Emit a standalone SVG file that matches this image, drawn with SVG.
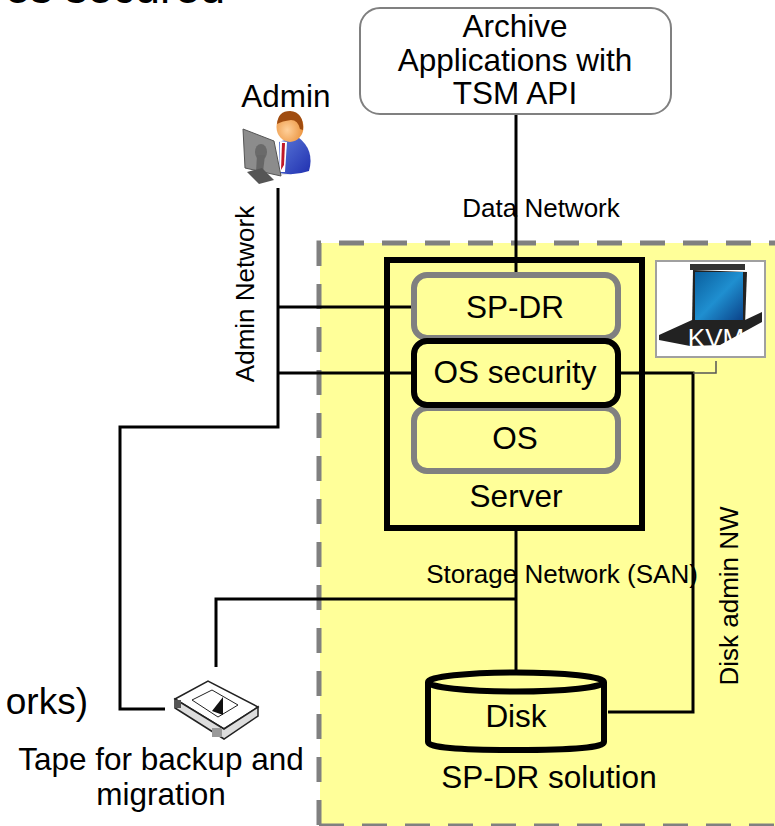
<svg xmlns="http://www.w3.org/2000/svg" width="775" height="826" viewBox="0 0 775 826">
<style>
text{font-family:"Liberation Sans",Arial,sans-serif;fill:#000;text-anchor:middle}
.f32{font-size:31.5px}.f26{font-size:26px}
.conn{fill:none;stroke:#000;stroke-width:3}
.box{fill:#ffff99}
.gr{stroke:#808080;stroke-width:6}
.bk{stroke:#000;stroke-width:6}
</style>
<defs>
<linearGradient id="screen" x1="0" y1="0" x2="1" y2="1"><stop offset="0" stop-color="#0a5f9e"/><stop offset=".5" stop-color="#1f8fd0"/><stop offset="1" stop-color="#0a3f86"/></linearGradient>
<linearGradient id="suit" x1="0" y1="0" x2="1" y2="1"><stop offset="0" stop-color="#5a78d8"/><stop offset="1" stop-color="#2030b0"/></linearGradient>
<radialGradient id="face" cx=".4" cy=".6" r=".7"><stop offset="0" stop-color="#ffd09a"/><stop offset="1" stop-color="#e88a30"/></radialGradient>
</defs>
<rect width="775" height="826" fill="#fff"/>
<text x="225" y="3" style="font-size:45px;text-anchor:end">es secured</text>
<text x="88" y="714" style="font-size:37px;text-anchor:end">orks)</text>
<g id="solution-zone">
<rect x="320" y="243" width="460" height="583" fill="#ffff99"/>
<path d="M319,825 V243 H775" fill="none" stroke="#808080" stroke-width="5" stroke-dasharray="25 18"/>
<path d="M319,825 H775" fill="none" stroke="#808080" stroke-width="3" stroke-dasharray="25 18"/>
</g>
<g id="server"><rect class="box bk" x="387" y="260" width="255" height="268"/><text class="f32" x="516" y="507">Server</text></g>
<g id="connectors">
<path class="conn" d="M516,114V272"/>
<path class="conn" d="M278,188V427H120V709H165"/>
<path class="conn" d="M278,307H414"/>
<path class="conn" d="M278,373H414"/>
<path class="conn" d="M618,373H693V712H608"/>
<path d="M693,373H716V361" fill="none" stroke="#555" stroke-width="1.5"/>
<path class="conn" d="M516,528V672"/>
<path class="conn" d="M516,599H216V667"/>
</g>
<g id="archive"><rect x="360" y="8" width="311" height="106" rx="20" fill="#fff" stroke="#808080" stroke-width="2"/>
<text class="f32" x="515" y="37">Archive</text><text class="f32" x="515" y="71">Applications with</text><text class="f32" x="515" y="104">TSM API</text></g>
<g id="sp-dr"><rect class="box gr" x="414" y="275" width="204" height="63" rx="13"/><text class="f32" x="515" y="318">SP-DR</text></g>
<g id="os"><rect class="box gr" x="414" y="408" width="204" height="63" rx="13"/><text class="f32" x="515" y="449">OS</text></g>
<g id="os-security"><rect class="box bk" x="414" y="341" width="204" height="64" rx="13"/><text class="f32" x="515" y="383">OS security</text></g>
<g id="disk">
<path class="box" d="M428,682V742Q428,750 516,750Q604,750 604,742V682" stroke="#000" stroke-width="6"/>
<ellipse class="box" cx="516" cy="682" rx="88" ry="9.5" stroke="#000" stroke-width="6"/>
<text class="f32" x="516" y="727">Disk</text>
<text class="f32" x="549" y="788">SP-DR solution</text>
</g>
<g id="admin">
<text class="f32" x="286" y="107">Admin</text>
<ellipse cx="283" cy="172" rx="13" ry="3" fill="#e8e8e8"/>
<path d="M279,142 Q290,138 298,137 Q315,150 309,171 Q295,176 279,173Z" fill="url(#suit)"/>
<path d="M280,141L287,142L285,172L279,172Z" fill="#fff"/>
<path d="M282,143L285,143L284,165L281,170Z" fill="#c01828"/>
<ellipse cx="290" cy="127" rx="13.500" ry="15" fill="url(#face)"/>
<path d="M277,124Q278,111 290,111Q304,112 303,130L300,129Q298,120 291,120Q282,121 277,124Z" fill="#a04c10"/>
<path d="M243,129L274,141L281,176L245,168Z" fill="#8c8c8c" stroke="#555" stroke-width="1"/>
<ellipse cx="261" cy="152" rx="6" ry="8" fill="#6a6a6a"/>
<path d="M257,155L265,155L263,172L256,172Z" fill="#666"/>
<path d="M247,172L262,168L274,180L259,184Z" fill="#555"/>
</g>
<g id="kvm">
<rect x="656" y="261" width="109" height="96" fill="#fff" stroke="#a0a0a0" stroke-width="2"/>
<path d="M690,264H745V270H690Z" fill="#333"/>
<path d="M693,270L747,272L745,325L692,325Z" fill="#222"/>
<rect x="695" y="272" width="48" height="50" fill="url(#screen)"/>
<path d="M659,335L692,320L745,320L762,312L762,322L720,345L690,346L659,340Z" fill="#222"/>
<text x="716" y="347" style="font-size:26px;fill:#fff">KVM</text>
</g>
<g id="tape">
<path d="M175,699L208,681L258,707L224,729Z" fill="#fff" stroke="#222" stroke-width="1.500"/>
<path d="M175,699V708L224,739L258,716V707L224,729Z" fill="#ddd" stroke="#222" stroke-width="1.500"/>
<path d="M192,700L212,690L238,705L218,717Z" fill="#fff" stroke="#222" stroke-width="1"/>
<path d="M212,711L223,697L223,715Z" fill="#111"/>
<rect x="175" y="700" width="6" height="8" fill="#555"/><rect x="212" y="728" width="10" height="9" fill="#999"/>
<text class="f32" x="161" y="770">Tape for backup and</text>
<text class="f32" x="161" y="805">migration</text>
</g>
<g id="labels">
<text class="f26" x="541" y="217">Data Network</text>
<text class="f26" x="562" y="583">Storage Network (SAN)</text>
<text class="f26" transform="translate(254,294) rotate(-90)">Admin Network</text>
<text class="f26" transform="translate(738,596) rotate(-90)">Disk admin NW</text>
</g>
</svg>
